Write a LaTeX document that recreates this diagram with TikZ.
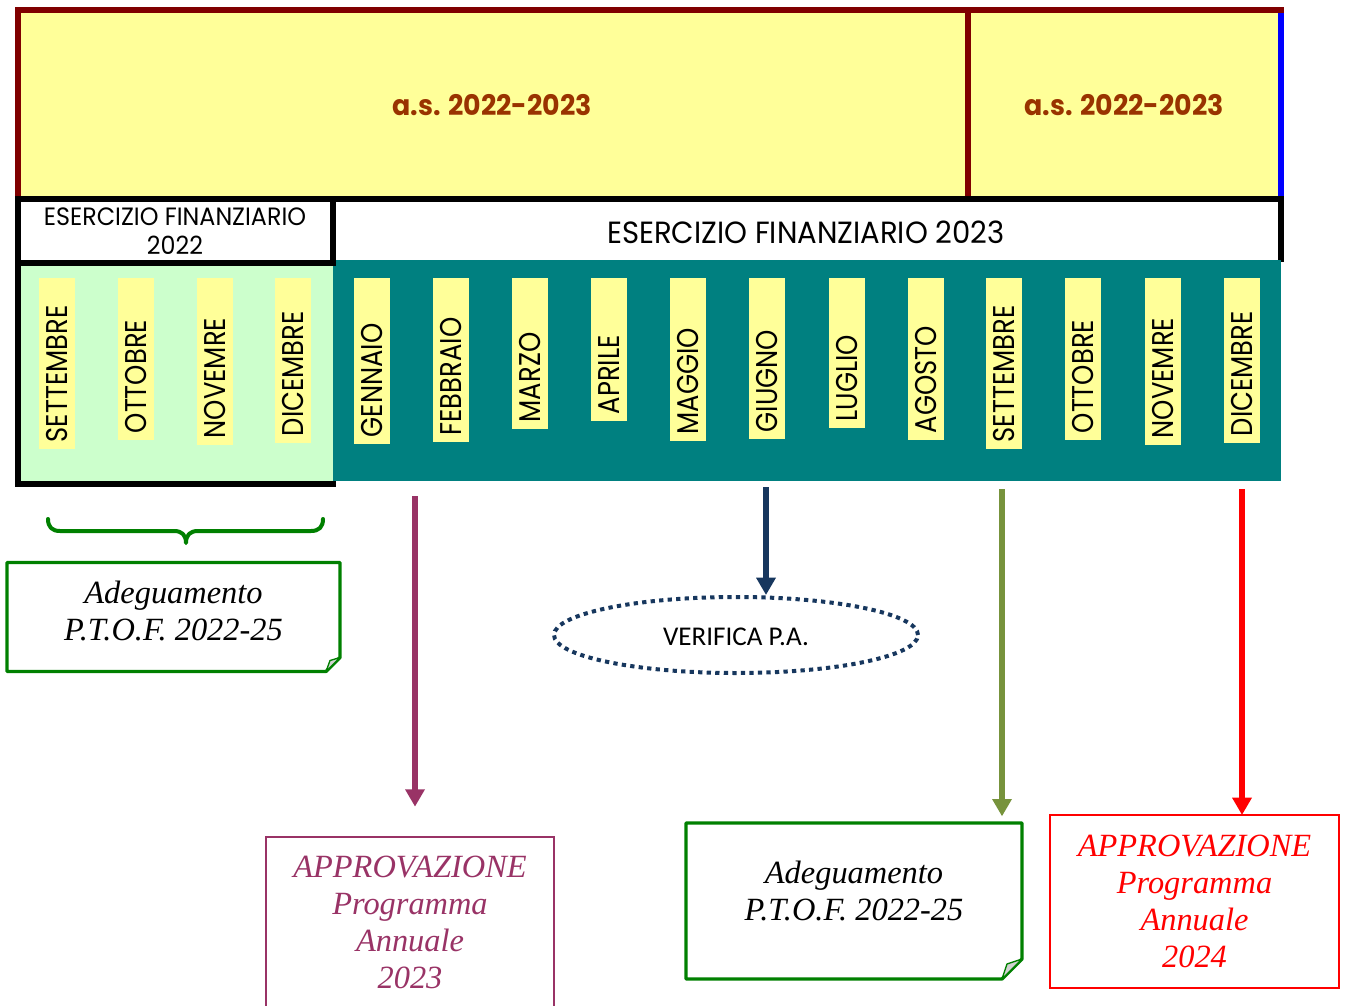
\documentclass[tikz,border=0pt]{standalone}
\usepackage{fontspec}
\usetikzlibrary{arrows.meta,shapes.geometric,calc}
\newfontfamily\futfont[FakeStretch=0.86]{Poppins}
\newfontfamily\futwide[FakeStretch=0.95]{Poppins}
\newfontfamily\calfont{Carlito}
\newfontfamily\tmsfont{Liberation Serif}
\definecolor{ban}{HTML}{FFFF99}
\definecolor{dred}{HTML}{800000}
\definecolor{brn}{HTML}{993300}
\definecolor{tealc}{HTML}{008080}
\definecolor{lgreen}{HTML}{CCFFCC}
\definecolor{gr}{HTML}{008000}
\definecolor{purp}{HTML}{993366}
\definecolor{navy}{HTML}{17375E}
\definecolor{olive}{HTML}{77933C}
\tikzset{
  mbox/.style={fill=ban, minimum width=27pt, inner sep=0pt, outer sep=0pt, anchor=north},
  mtext/.style={rotate=90, anchor=west, inner sep=0pt, font=\futfont\fontsize{22.5}{22.5}\selectfont},
  astext/.style={inner sep=0pt, text=brn, font=\futwide\bfseries\fontsize{21.2}{21.2}\selectfont},
  eftext/.style={inner sep=0pt, align=center},
  arr/.style={line width=4.2pt, -{Triangle[width=14pt,length=13pt]}},
  shell/.style={inner sep=0pt, outer sep=0pt},
  notetext/.style={inner sep=0pt, align=center, font=\tmsfont\itshape\fontsize{24.3}{27.6}\selectfont},
  border/.style={line width=4.5pt},
}
\begin{document}
\begin{tikzpicture}[x=0.75pt,y=-0.75pt]
\useasboundingbox (0,0) rectangle (1345,1006);
\clip (0,0) rectangle (1345,1006);
\fill[white] (0,0) rectangle (1345,1006);
% banner
\fill[ban] (18,10) rectangle (1281,199);
\draw[dred, border] (18,199) -- (18,10) -- (1284,10);
\draw[dred, border] (968,10) -- (968,199);
\draw[blue, border] (1281,13) -- (1281,197);
\node[astext] (as1) at (492,105) {a.s. 2022-2023};
\node[astext] (as2) at (1124,105) {a.s. 2022-2023};
% esercizio 2023
\draw[border] (15,199) -- (1284,199);
\draw[border] (1281,199) -- (1281,262);
\node[eftext, font=\futwide\fontsize{23}{23}\selectfont] (ef23) at (806,232) {ESERCIZIO FINANZIARIO 2023};
% month bands
\fill[tealc] (332,260) rectangle (1281,481);
\fill[lgreen] (18,263) rectangle (333,484);
\draw[border] (18,199) rectangle (333,263);
\draw[border] (18,199) -- (18,487);
\draw[border] (15,484) -- (336,484);
\node[eftext, font=\futwide\fontsize{18.8}{21.75}\selectfont] (ef22) at (175,231.5) {ESERCIZIO FINANZIARIO\\2022};
\foreach \x/\b/\t [count=\i] in {57/449/SETTEMBRE, 136/440/OTTOBRE, 215/445/NOVEMRE, 293/443/DICEMBRE, 372/444/GENNAIO, 451/442/FEBBRAIO, 530/429/MARZO, 609/421/APRILE, 688/441/MAGGIO, 767/439/GIUGNO, 847/428/LUGLIO, 926/440/AGOSTO, 1004/449/SETTEMBRE, 1083/440/OTTOBRE, 1163/445/NOVEMRE, 1242/443/DICEMBRE}{
  \node[mbox, minimum height={(\b-278)*0.75pt}] (m\i) at (\x,278) {};
  \node[mtext] (t\i) at (\x,\b-6.5) {\t};
}
% brace
\draw[gr, line width=3pt, line cap=round, line join=round]
  (48,519) .. controls (48,527) and (52,531) .. (60,531) -- (174,531)
  .. controls (182,531) and (186,535) .. (186,543)
  .. controls (186,535) and (190,531) .. (198,531) -- (311,531)
  .. controls (319,531) and (323,527) .. (323,519);
% note box left
\node[shell, minimum width=249.75pt, minimum height=81.75pt] (nb1) at (173.5,617) {};
\draw[gr, line width=2.5pt, line join=round] (nb1.north west) -- (nb1.north east) -- ($(nb1.south east)+(0,-14)$) -- ($(nb1.south east)+(-14,0)$) -- (nb1.south west) -- cycle;
\filldraw[fill=gray!35, draw=gr, line width=1pt, line join=round] ($(nb1.south east)+(-14,0)$) -- ($(nb1.south east)+(-10,-11)$) -- ($(nb1.south east)+(0,-14)$) -- cycle;
\node[notetext] (nt1) at (173.5,611) {Adeguamento\\P.T.O.F. 2022-25};
% note box right
\node[shell, minimum width=252pt, minimum height=117pt] (nb2) at (854,901) {};
\draw[gr, line width=2.5pt, line join=round] (nb2.north west) -- (nb2.north east) -- ($(nb2.south east)+(0,-20)$) -- ($(nb2.south east)+(-20,0)$) -- (nb2.south west) -- cycle;
\filldraw[fill=gray!35, draw=gr, line width=1pt, line join=round] ($(nb2.south east)+(-20,0)$) -- ($(nb2.south east)+(-15,-15)$) -- ($(nb2.south east)+(0,-20)$) -- cycle;
\node[notetext] (nt2) at (854,891) {Adeguamento\\P.T.O.F. 2022-25};
% purple box
\node[shell, draw=purp, line width=1.5pt, minimum width=216pt, minimum height=137pt] (pbox) at (410,928) {};
\node[notetext, text=purp] (pt) at (410,922.5) {APPROVAZIONE\\Programma\\Annuale\\2023};
% red box
\node[shell, draw=red, line width=1.5pt, minimum width=216.75pt, minimum height=129.75pt] (rbox) at (1194.5,901.5) {};
\node[notetext, text=red] (rt) at (1194.5,901.5) {APPROVAZIONE\\Programma\\Annuale\\2024};
% verifica
\node[ellipse, draw=navy, line width=3pt, dash pattern=on 3.2pt off 3.2pt, minimum width=273pt, minimum height=57pt, inner sep=0pt] (ver) at (736,635) {};
\node[inner sep=0pt, font=\calfont\fontsize{20.3}{20.3}\selectfont] (vt) at (736,637) {VERIFICA P.A.};
% arrows
\coordinate (pa) at (415,496);
\coordinate (na) at (766,487);
\coordinate (oa) at (1002,489);
\coordinate (ra) at (1242,489);
\draw[arr, purp, shorten >=22.5pt] (pa) -- (pa |- pbox.north);
\draw[arr, navy] (na) -- (na |- ver.north);
\draw[arr, olive, shorten >=5pt] (oa) -- (oa |- nb2.north);
\draw[arr, red] (ra) -- (ra |- rbox.north);
\end{tikzpicture}
\end{document}
